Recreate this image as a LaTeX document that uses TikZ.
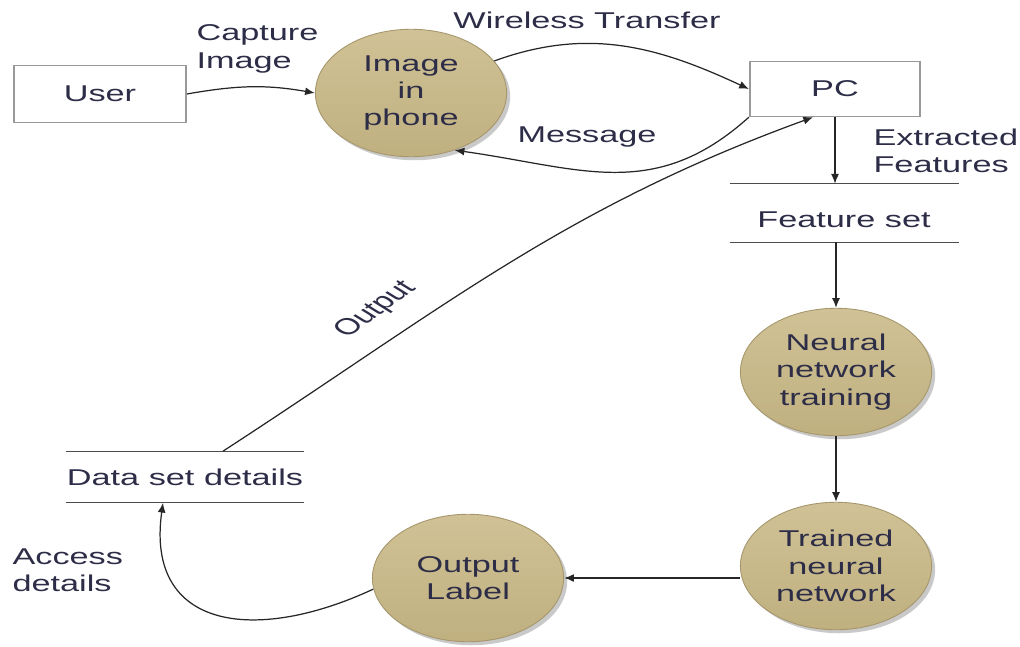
\documentclass[tikz,border=0pt]{standalone}
\usepackage{fontspec}
\setmainfont{Liberation Sans}
\usepackage{xcolor}
\usepackage{tikz}
\usetikzlibrary{arrows.meta,shapes,shadows}

\definecolor{ink}{RGB}{45,45,72}
\definecolor{tanlight}{RGB}{208,194,150}
\definecolor{tandark}{RGB}{192,176,128}
\definecolor{tanedge}{RGB}{165,150,108}

\begin{document}
\begin{tikzpicture}[x=0.02cm,y=0.02cm,>={Latex[length=5.5pt,width=4.5pt]},
  every node/.style={font=\fontsize{13}{15.5}\selectfont,text=ink,xscale=1.5,inner sep=0pt},
  entity/.style={draw=black!40,line width=0.8pt,fill=white,minimum width=2.29cm,minimum height=1.15cm},
  proc/.style={circle,draw=tanedge,line width=0.5pt,top color=tanlight,bottom color=tandark,
    minimum size=2.55cm,inner sep=1pt,align=center,
    drop shadow={shadow xshift=2pt,shadow yshift=-2pt,opacity=0.3,fill=black!70}},
  store/.style={minimum height=1.16cm},
  storeline/.style={black!70,line width=0.7pt},
  flow/.style={->,line width=0.7pt,black!85}]
\useasboundingbox (0,0) rectangle (1020,-646);

% entities, processes and stores
\node[entity] (user) at (100,-94) {User};
\node[entity,minimum width=2.27cm,minimum height=1.1cm] (pc) at (835,-89) {PC};
\node[proc] (phone) at (411,-93) {Image\\in\\phone};
\node[store,minimum width=3.04cm,text height=16pt,text depth=0pt] (fset) at (844,-213) {Feature set};
\node[proc] (train) at (836,-372) {Neural\\network\\training};
\node[proc] (trained) at (836,-566) {Trained\\neural\\network};
\node[proc] (olabel) at (468,-578) {Output\\Label};
\node[store,minimum width=3.07cm,minimum height=1.02cm] (dset) at (185,-477) {Data set details};
\draw[storeline] (fset.north west) -- (fset.north east) (fset.south west) -- (fset.south east);
\draw[storeline] (dset.north west) -- (dset.north east) (dset.south west) -- (dset.south east);

% flow labels
\node[align=left,anchor=west] (lcapture) at (196,-49) {Capture\\Image};
\node (lwireless) at (587,-20) {Wireless Transfer};
\node (lmessage) at (587,-137) {Message};
\node[align=left,anchor=west] (lextract) at (873,-151) {Extracted\\Features};
\node[rotate=47] (loutput) at (376,-310) {Output};
\node[align=left,anchor=west] (laccess) at (12,-570) {Access\\details};

% data flows
\draw[flow] (user.east) to[out=10,in=170] (phone.west);
\draw[flow] (phone.30) to[out=20,in=155] (pc.west);
\draw[flow] (pc.south west) to[out=222,in=-8,looseness=1.1] (phone.297);
\draw[flow] (pc.south) -- (pc.south |- fset.north);
\draw[flow] (train.north |- fset.south) -- (train.north);
\draw[flow] (train.south) -- (trained.north);
\draw[flow] (trained.west |- olabel.east) -- (olabel.east);
\draw[flow] (olabel.190) to[out=205,in=-98,looseness=1.45] ([xshift=-0.44cm]dset.south);
\draw[flow] ([xshift=0.76cm]dset.north) to[out=33,in=200] ([xshift=-0.44cm]pc.south);
\end{tikzpicture}
\end{document}
